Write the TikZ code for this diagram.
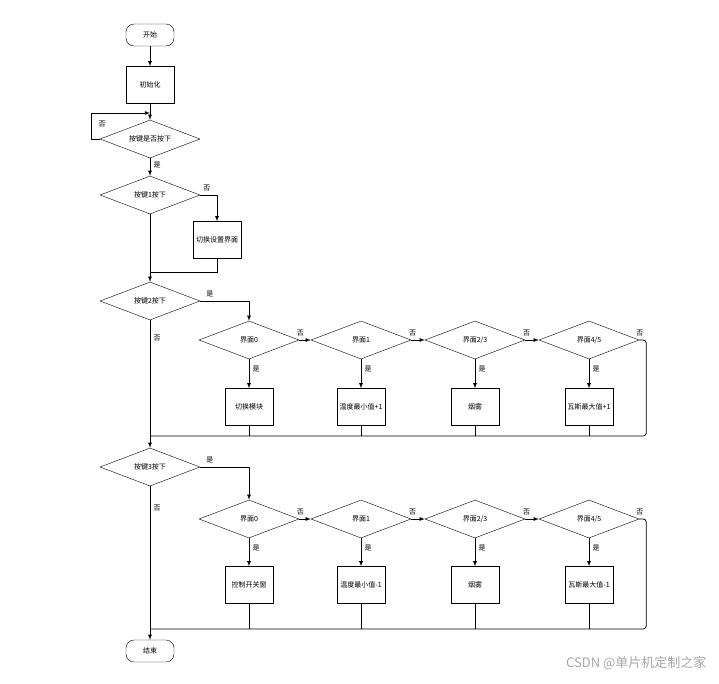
\documentclass[tikz,border=0pt]{standalone}
\usepackage{fontspec}
\newfontfamily\cjk{Noto Sans CJK SC}
\usetikzlibrary{arrows, shapes.geometric, calc}

\tikzset{
  term/.style={draw, rounded corners=8pt, minimum width=48pt, minimum height=22pt, font=\cjk\fontsize{7}{8}\selectfont},
  proc/.style={draw, minimum width=48pt, minimum height=37pt, text width=44pt, align=center, inner sep=1pt, font=\cjk\fontsize{7}{10}\selectfont},
  dec/.style={draw, diamond, aspect=2.6, minimum width=100pt, minimum height=38pt, inner sep=0pt, font=\cjk\fontsize{7}{8}\selectfont},
  lab/.style={font=\cjk\fontsize{7}{8}\selectfont},
  line/.style={draw, thick},
  arr/.style={line, -latex}
}

\begin{document}
\begin{tikzpicture}[x=1pt, y=-1pt]
        \useasboundingbox (0,0) rectangle (719,683);

        \node[term] (start) at (150,35) {开始};
        \node[proc] (init) at (150,85) {初始化};
        \node[dec] (any) at (150,139) {按键是否按下};
        \node[dec] (k1) at (150,195) {按键1按下};
        \node[proc] (set) at (217,240) {切换设置界面};
        \node[dec] (k2) at (150,301) {按键2按下};
        \node[dec] (k3) at (150,467) {按键3按下};
        \node[term] (stop) at (150,651) {结束};

        \coordinate (loop) at (150,113);
        \coordinate (join1) at (150,272);
        \coordinate (bus1) at (150,436);
        \coordinate (bus2) at (150,629);

        \draw[arr] (start) -- (init);
        \draw[arr] (init) -- (any);
        \draw[arr] (any.west) -| (91,113) -- (loop);
        \node[lab] at (102,124) {否};
        \draw[arr] (any) -- node[lab, right, pos=0.4] {是} (k1);
        \draw[arr] (k1.east) -| node[lab, above, pos=0.2] {否} (set);
        \draw[line] (set.south) |- (join1);
        \draw[line] (k1.south) -- (join1);
        \draw[arr] (join1) -- (k2);
        \draw[line] (k2.south) -- node[lab, right, pos=0.15] {否} (bus1);
        \draw[arr] (bus1) -- (k3);
        \draw[line] (k3.south) -- node[lab, right, pos=0.15] {否} (bus2);
        \draw[arr] (bus2) -- (stop);

        % two rows of screen checks
        \foreach \row/\k/\y/\by/\bus/\a/\b/\c/\d in {
            a/k2/340/407/436/切换模块/温度最小值+1/烟雾/瓦斯最大值+1/风速/雨量最大值+1,
            b/k3/519/585/629/控制开关窗/温度最小值-1/烟雾/瓦斯最大值-1/风速/雨量最大值-1} {
          \node[dec] (\row0) at (249,\y) {界面0};
          \node[dec] (\row1) at (361,\y) {界面1};
          \node[dec] (\row2) at (475,\y) {界面2/3};
          \node[dec] (\row3) at (589,\y) {界面4/5};
          \node[proc] (\row b0) at (249,\by) {\a};
          \node[proc] (\row b1) at (361,\by) {\b};
          \node[proc] (\row b2) at (475,\by) {\c};
          \node[proc] (\row b3) at (589,\by) {\d};
          \draw[arr] (\k.east) -| node[lab, above, pos=0.1] {是} (\row0.north);
          \draw[arr] (\row0.east) -- node[lab, above, pos=0.1] {否} (\row1.west);
          \draw[arr] (\row1.east) -- node[lab, above, pos=0.1] {否} (\row2.west);
          \draw[arr] (\row2.east) -- node[lab, above, pos=0.1] {否} (\row3.west);
          \draw[line, rounded corners=3pt] (\row3.east) -- node[lab, above, pos=0.1] {否} ++(7,0) |- (150,\bus);
          \foreach \i in {0,...,3} {
            \draw[arr] (\row\i.south) -- node[lab, right, pos=0.35] {是} (\row b\i.north);
            \draw[line] (\row b\i.south) -- (\row b\i.south |- 0,\bus);
          }
        }

        \node[font=\cjk\fontsize{13}{14}\selectfont, text=black!35, anchor=east] at (710,663) {CSDN @单片机定制之家};
\end{tikzpicture}
\end{document}
